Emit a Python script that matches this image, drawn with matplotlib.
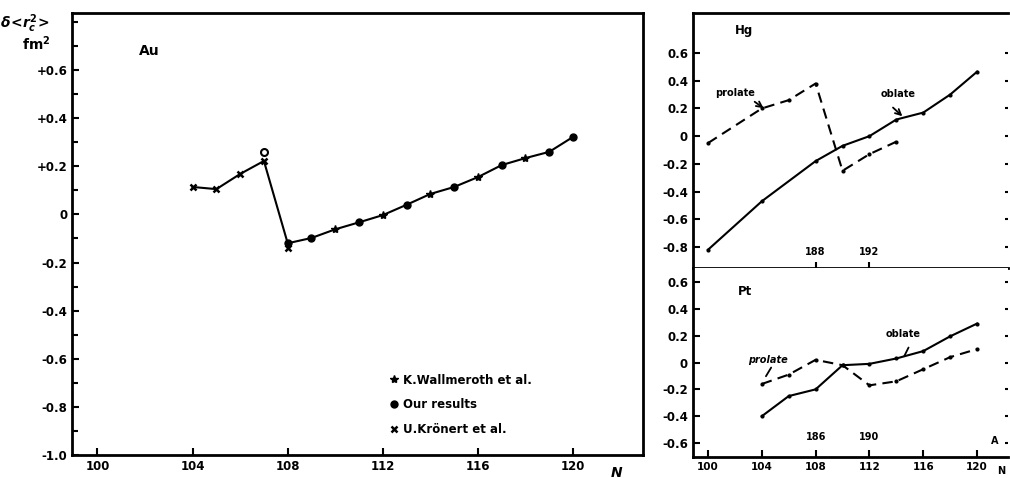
import numpy as np
import matplotlib
matplotlib.use('Agg')
import matplotlib.pyplot as plt
from matplotlib.ticker import FixedLocator, FixedFormatter, MultipleLocator

# --- Au isotope shifts (left panel) ---
kronert_N = [104, 105, 106, 107, 108]
kronert_dr2 = [0.114, 0.105, 0.168, 0.222, -0.14]
wall_N = [110, 112, 114, 116, 118]
wall_dr2 = [-0.062, -0.003, 0.085, 0.155, 0.234]
ours_N = [108, 109, 111, 113, 115, 117, 119, 120]
ours_dr2 = [-0.12, -0.098, -0.033, 0.04, 0.114, 0.205, 0.26, 0.322]
open_N = [107]
open_dr2 = [0.259]

# --- Hg (upper right) ---
hg_obl_N = [100, 104, 108, 110, 112, 114, 116, 118, 120]
hg_obl = [-0.82, -0.47, -0.18, -0.07, 0.0, 0.12, 0.17, 0.30, 0.465]
hg_pro_N = [100, 104, 106, 108, 110, 112, 114]
hg_pro = [-0.05, 0.20, 0.26, 0.38, -0.25, -0.13, -0.04]

# --- Pt (lower right) ---
pt_obl_N = [104, 106, 108, 110, 112, 114, 116, 118, 120]
pt_obl = [-0.40, -0.25, -0.20, -0.02, -0.01, 0.03, 0.085, 0.195, 0.29]
pt_pro_N = [104, 106, 108, 110, 112, 114, 116, 118, 120]
pt_pro = [-0.16, -0.09, 0.02, -0.02, -0.17, -0.14, -0.05, 0.04, 0.10]

au_yticks = [0.6, 0.4, 0.2, 0, -0.2, -0.4, -0.6, -0.8, -1.0]
au_ylabels = ['+0.6', '+0.4', '+0.2', '0', '-0.2', '-0.4', '-0.6', '-0.8', '-1.0']
n_ticks = [100, 104, 108, 112, 116, 120]

plt.rcParams['font.family'] = 'DejaVu Sans'
plt.rcParams['font.weight'] = 'bold'
fs = 8.5
lw_sp = 2.0

fig = plt.figure(figsize=(10.10, 4.78), dpi=100)
ax = fig.add_axes([0.0713, 0.0481, 0.5653, 0.9247])
hg = fig.add_axes([0.6861, 0.4393, 0.3119, 0.5335])
pt = fig.add_axes([0.6861, 0.0439, 0.3119, 0.3954])

for a in (ax, hg, pt):
    for s in a.spines.values():
        s.set_linewidth(lw_sp)
    a.tick_params(direction='in', length=5, width=1.5, labelsize=fs)
    a.tick_params(which='minor', direction='in', length=4, width=1.5)

# ---- Au ----
# one connecting line: Kronert points up to 107, then all points from 108 on
allN = np.array(wall_N + ours_N[1:])
allv = np.array(wall_dr2 + ours_dr2[1:])
order = np.argsort(allN)
line_v = kronert_dr2[:4] + [ours_dr2[0]] + list(allv[order])
line_N = kronert_N[:4] + [ours_N[0]] + list(allN[order])
ax.plot(line_N, line_v, 'k-', lw=1.5)
h1, = ax.plot(wall_N, wall_dr2, 'k*', ms=6, ls='none', label='K.Wallmeroth et al.')
h2, = ax.plot(ours_N, ours_dr2, 'ko', ms=5, ls='none', label='Our results')
h3, = ax.plot(kronert_N, kronert_dr2, 'kx', ms=5, mew=1.8, ls='none', label='U.Kr\u00f6nert et al.')
ax.plot(open_N, open_dr2, 'o', mfc='white', mec='k', mew=1.5, ms=5)
ax.set_xlim(98.93, 122.94)
ax.set_ylim(-1.0, 0.837)
ax.xaxis.set_major_locator(FixedLocator(n_ticks))
ax.yaxis.set_major_locator(FixedLocator(au_yticks))
ax.yaxis.set_major_formatter(FixedFormatter(au_ylabels))
ax.yaxis.set_minor_locator(MultipleLocator(0.1))
ax.text(0.118, 0.905, 'Au', transform=ax.transAxes, fontsize=10)
ax.text(121.6, -1.045, 'N', fontsize=10, style='italic', va='top')
ax.legend(handles=[h1, h2, h3], loc='upper left', bbox_to_anchor=(0.55, 0.195),
          frameon=False, fontsize=fs, handlelength=0.6, handletextpad=0.4,
          labelspacing=1.0, borderaxespad=0)
fig.text(0.0, 0.942, r'$\delta\!<\!r_c^2\!>$', fontsize=10)
fig.text(0.022, 0.895, r'$\mathbf{fm^2}$', fontsize=10)

# ---- Hg ----
hg.plot(hg_obl_N, hg_obl, 'k.-', lw=1.5, ms=4)
hg.plot(hg_pro_N, hg_pro, 'k.', ls=(0, (5, 3)), lw=1.5, ms=4)
hg.set_xlim(98.88, 122.3)
hg.set_ylim(-0.952, 0.889)
hg.yaxis.set_major_locator(FixedLocator([0.6, 0.4, 0.2, 0, -0.2, -0.4, -0.6, -0.8]))
hg.yaxis.set_major_formatter(FixedFormatter(['0.6', '0.4', '0.2', '0', '-0.2', '-0.4', '-0.6', '-0.8']))
hg.xaxis.set_major_locator(FixedLocator([108, 112]))
hg.tick_params(axis='x', labelbottom=False, length=4)
hg.tick_params(axis='y', right=True)
hg.spines['right'].set_visible(False)
hg.text(102.0, 0.74, 'Hg', fontsize=fs)
hg.text(100.5, 0.29, 'prolate', fontsize=7)
hg.annotate('', xy=(104.3, 0.19), xytext=(103.3, 0.26),
            arrowprops=dict(arrowstyle='->', lw=1.3, color='k'))
hg.text(112.8, 0.28, 'oblate', fontsize=7)
hg.annotate('', xy=(114.6, 0.13), xytext=(113.6, 0.22),
            arrowprops=dict(arrowstyle='->', lw=1.3, color='k'))
hg.text(108, -0.855, '188', fontsize=7, ha='center')
hg.text(112, -0.855, '192', fontsize=7, ha='center')

# ---- Pt ----
pt.plot(pt_obl_N, pt_obl, 'k.-', lw=1.5, ms=4)
pt.plot(pt_pro_N, pt_pro, 'k.', ls=(0, (5, 3)), lw=1.5, ms=4)
pt.set_xlim(98.88, 122.3)
pt.set_ylim(-0.704, 0.704)
pt.yaxis.set_major_locator(FixedLocator([0.6, 0.4, 0.2, 0, -0.2, -0.4, -0.6]))
pt.yaxis.set_major_formatter(FixedFormatter(['0.6', '0.4', '0.2', '0', '-0.2', '-0.4', '-0.6']))
pt.xaxis.set_major_locator(FixedLocator(n_ticks))
pt.tick_params(axis='y', right=True)
pt.tick_params(axis='x', labelsize=7.5)
pt.spines['right'].set_visible(False)
pt.spines['top'].set_visible(False)
pt.text(102.2, 0.5, 'Pt', fontsize=fs)
pt.text(103.0, 0.0, 'prolate', fontsize=7, style='italic')
pt.annotate('', xy=(104.2, -0.12), xytext=(104.8, -0.02),
            arrowprops=dict(arrowstyle='-', lw=1.3, color='k'))
pt.text(113.2, 0.19, 'oblate', fontsize=7)
pt.annotate('', xy=(114.5, 0.03), xytext=(115.0, 0.13),
            arrowprops=dict(arrowstyle='-', lw=1.3, color='k'))
pt.text(108, -0.58, '186', fontsize=7, ha='center')
pt.text(112, -0.58, '190', fontsize=7, ha='center')
pt.text(121.0, -0.61, 'A', fontsize=7)
pt.text(121.5, -0.77, 'N', fontsize=7, va='top')

# right-hand ticks are only faint dots in the scan
for a in (hg, pt):
    for t in a.yaxis.get_major_ticks():
        t.tick2line.set_markersize(2)

fig.savefig('out.png', dpi=100)
